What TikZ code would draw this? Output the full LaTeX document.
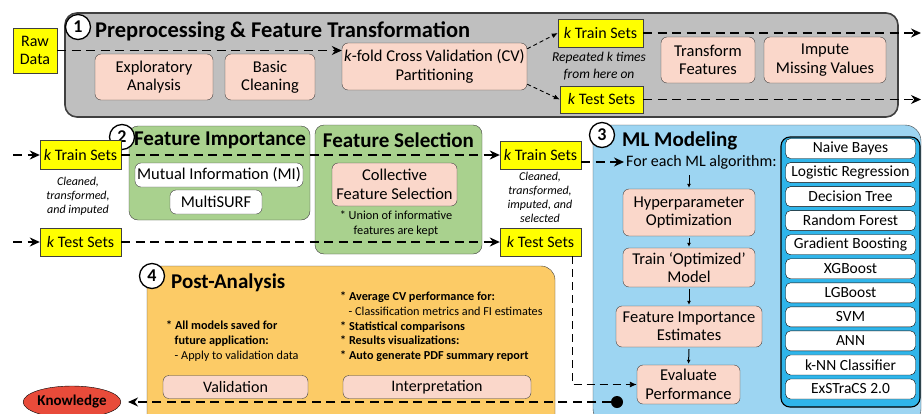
\documentclass[tikz,border=0pt]{standalone}
\usepackage{fontspec}
\setmainfont{Carlito}
\usetikzlibrary{shapes.geometric,arrows.meta,positioning}
\usepackage{xcolor}
\definecolor{GreyFill}{HTML}{BFBFBF}
\definecolor{Salmon}{HTML}{FAD7CA}
\definecolor{SetYellow}{HTML}{FFFF00}
\definecolor{FiGreen}{HTML}{A9D18E}
\definecolor{MlBlue}{HTML}{9DD5F2}
\definecolor{AlgoCyan}{HTML}{2FB5EA}
\definecolor{PostOrange}{HTML}{FCCB66}
\definecolor{KnowRed}{HTML}{E84B3A}
\definecolor{LineDark}{HTML}{404040}

\begin{document}
\begin{tikzpicture}[
  x=1pt, y=-1pt,
  >={Stealth[length=10pt,width=9pt]},
  txt/.style={font=\fontsize{16.5}{18.5}\selectfont},
  stage/.style={draw=LineDark, rounded corners=12pt, inner sep=0pt},
  box/.style={draw=LineDark, fill=Salmon, rounded corners=6pt, align=center, inner sep=0pt, txt},
  sets/.style={draw=LineDark, fill=SetYellow, align=center, inner sep=0pt, font=\fontsize{16}{18.5}\selectfont},
  algo/.style={draw=black, fill=white, rounded corners=5pt, minimum width=130pt, minimum height=20pt, inner sep=0pt, font=\fontsize{15.5}{17}\selectfont},
  num/.style={circle, draw=black, line width=1.3pt, fill=white, minimum size=25pt, inner sep=0pt, font=\bfseries\fontsize{18}{18}\selectfont},
  head/.style={inner sep=0pt, font=\bfseries\fontsize{21}{23}\selectfont},
  note/.style={align=center, inner sep=0pt, font=\itshape\fontsize{12}{14}\selectfont},
  flow/.style={line width=1.3pt, dash pattern=on 9pt off 5.5pt, ->},
  split/.style={line width=0.9pt, dash pattern=on 4pt off 3pt, -{Latex[length=6pt,width=5pt]}},
  dn/.style={line width=1pt, -{Latex[length=4pt,width=4pt]}, shorten >=1pt}
]
\useasboundingbox (0,0) rectangle (922,413);
\clip (0,0) rectangle (922,413);

% Stage 1 - preprocessing
\node[stage, fill=GreyFill, line width=1.6pt, minimum width=833pt, minimum height=104pt] (s1) at (481.5,65) {};
\node[num] (n1) at (78,27) {1};
\node[head, anchor=west, font=\bfseries\fontsize{22.5}{24}\selectfont] (t1) at (95,31) {Preprocessing \& Feature Transformation};
\node[sets, minimum width=44pt, minimum height=45pt] (raw) at (35,50.5) {Raw\\Data};
\node[box, minimum width=118pt, minimum height=46pt] (expl) at (154,77) {Exploratory\\Analysis};
\node[box, minimum width=90pt, minimum height=46pt] (clean) at (270,77) {Basic\\Cleaning};
\node[box, minimum width=185pt, minimum height=47pt] (kfold) at (434.5,66.5) {\textit{k}-fold Cross Validation (CV)\\Partitioning};
\node[sets, minimum width=85pt, minimum height=28pt] (tr1) at (600.5,33) {\textit{k} Train Sets};
\node[sets, minimum width=83pt, minimum height=27pt] (te1) at (601.5,99.5) {\textit{k} Test Sets};
\node[note, font=\itshape\fontsize{13.5}{16.5}\selectfont] (rep) at (599,66) {Repeated k times\\from here on};
\node[box, minimum width=94pt, minimum height=46pt] (transf) at (708,60) {Transform\\Features};
\node[box, minimum width=122pt, minimum height=46pt] (impute) at (825,60) {Impute\\Missing Values};
\coordinate (out1) at (921,33);
\coordinate (out2) at (921,99.5);
\coordinate (in1) at (13,155);
\coordinate (in2) at (13,242);

\draw[flow] (raw.east) -- (raw.east -| kfold.west);
\draw[split] (kfold.north east) ++(0,6) -- (tr1.west);
\draw[split] (kfold.south east) ++(0,-6) -- (te1.west);
\draw[flow] (tr1.east) -- (out1);
\draw[flow] (te1.east) -- (out2);

% Stage 2 - feature importance and selection
\node[stage, fill=FiGreen, rounded corners=9pt, minimum width=181pt, minimum height=94pt] (s2) at (219.5,173) {};
\node[stage, fill=FiGreen, rounded corners=9pt, minimum width=167pt, minimum height=129pt] (s2b) at (398.5,189.5) {};
\node[num] (n2) at (122,137) {2};
\node[head] (t2) at (220,140) {Feature Importance};
\node[head] (t2b) at (398.5,140) {Feature Selection};
\node[sets, minimum width=81pt, minimum height=29pt] (tr2) at (80.5,155) {\textit{k} Train Sets};
\node[sets, minimum width=81pt, minimum height=28pt] (te2) at (80.5,242) {\textit{k} Test Sets};
\node[note] (cti) at (78,196.5) {Cleaned,\\transformed,\\and imputed};
\node[box, fill=white, minimum width=168pt, minimum height=24pt] (mi) at (219,175) {Mutual Information (MI)};
\node[box, fill=white, minimum width=92pt, minimum height=24pt] (msurf) at (216,202) {MultiSURF};
\node[box, minimum width=125pt, minimum height=43pt] (cfs) at (394.5,184.5) {Collective\\Feature Selection};
\node[note, font=\fontsize{12.3}{15}\selectfont] (union) at (396,223.5) {* Union of informative\\features are kept};
\node[sets, minimum width=81pt, minimum height=28pt] (tr3) at (540.5,155) {\textit{k} Train Sets};
\node[sets, minimum width=81pt, minimum height=28pt] (te3) at (540.5,242) {\textit{k} Test Sets};
\node[note] (ctis) at (540,197.5) {Cleaned,\\transformed,\\imputed, and\\selected};

\draw[flow] (in1) -- (tr2.west);
\draw[flow] (in2) -- (te2.west);
\draw[flow] (tr2.east) -- (tr3.west);
\draw[flow] (te2.east) -- (te3.west);

% Stage 3 - ML modeling
\node[stage, fill=MlBlue, rounded corners=16pt, minimum width=328pt, minimum height=300pt] (s3) at (757,275) {};
\node[num] (n3) at (602,135) {3};
\node[head, anchor=west] (t3) at (622,141) {ML Modeling};
\node[anchor=west, inner sep=2pt, font=\fontsize{16}{18}\selectfont] (each) at (624,162) {For each ML algorithm:};
\node[box, minimum width=132pt, minimum height=47pt] (hyper) at (689,212.5) {Hyperparameter\\Optimization};
\node[box, minimum width=132pt, minimum height=39pt] (train) at (689,267.5) {Train `Optimized'\\Model};
\node[box, minimum width=146pt, minimum height=41pt] (fie) at (689,326.5) {Feature Importance\\Estimates};
\node[box, minimum width=103pt, minimum height=39pt] (eval) at (688.5,384.5) {Evaluate\\Performance};
\node[stage, fill=AlgoCyan, draw=black, line width=1.1pt, rounded corners=9pt, minimum width=139pt, minimum height=270pt] (algos) at (850.5,272) {};
\foreach \name [count=\i from 0] in {Naive Bayes, Logistic Regression, Decision Tree, Random Forest, Gradient Boosting, XGBoost, LGBoost, SVM, ANN, k-NN Classifier, ExSTraCS 2.0}
  \node[algo] (a\i) at (850.5,{148.5+24.05*\i}) {\name};

\draw[flow] (tr3.east |- each.west) -- (each.west);
\draw[dn] (hyper.north |- each.south) ++(0,4) -- (hyper.north);
\draw[dn] (hyper.south) ++(0,2) -- (train.north);
\draw[dn] (train.south) ++(0,2) -- (fie.north);
\draw[dn] (fie.south) ++(0,2) -- (eval.north);
\coordinate (bend) at (572,384.5);
\draw[line width=0.9pt, dash pattern=on 8pt off 5pt, -{Latex[length=7pt,width=6pt]}] (te3.south -| bend) -- (bend) -- (eval.west);

% Stage 4 - post-analysis
\node[stage, fill=PostOrange, rounded corners=14pt, minimum width=408pt, minimum height=164pt] (s4) at (351,348) {};
\node[num] (n4) at (152,276) {4};
\node[head, anchor=west] (t4) at (171,283) {Post-Analysis};
\node[anchor=north west, align=left, inner sep=0pt, font=\fontsize{12.2}{15}\selectfont] (saved) at (166,321) {\textbf{* All models saved for}\\\hspace*{0.7em}\textbf{future application:}\\\hspace*{0.7em}- Apply to validation data};
\node[anchor=north west, align=left, inner sep=0pt, font=\fontsize{12.2}{14.6}\selectfont] (avg) at (340,292) {\textbf{* Average CV performance for:}\\\hspace*{0.7em}- Classification metrics and FI estimates\\\textbf{* Statistical comparisons}\\\textbf{* Results visualizations:}\\\textbf{* Auto generate PDF summary report}};
\node[box, minimum width=145pt, minimum height=23pt, font=\fontsize{16}{18}\selectfont] (valid) at (235.5,387) {Validation};
\node[box, minimum width=188pt, minimum height=23pt, font=\fontsize{16}{18}\selectfont] (interp) at (437,387) {Interpretation};
\node[ellipse, draw=black, fill=KnowRed, inner sep=0pt, minimum width=84pt, minimum height=32pt, font=\bfseries\fontsize{15}{16}\selectfont] (know) at (72,402) {Knowledge};
\node[circle, fill=black, minimum size=12pt, inner sep=0pt] (dot) at (617,402) {};
\draw[flow, shorten >=7pt] (dot.west) -- (know.east);

\end{tikzpicture}
\end{document}
